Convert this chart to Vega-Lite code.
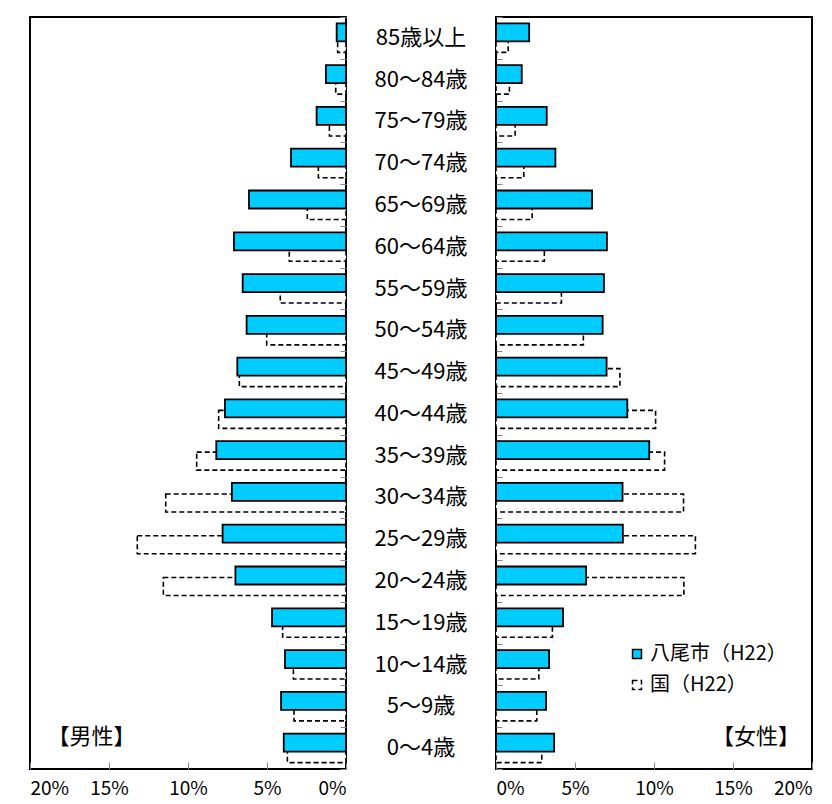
{
  "$schema": "https://vega.github.io/schema/vega-lite/v6.json",
  "padding": {"left": 28, "top": 15, "right": 0, "bottom": 0},
  "bounds": "flush",
  "spacing": 0,
  "config": {
    "view": {"stroke": "black", "strokeWidth": 2},
    "font": "Noto Sans CJK JP",
    "axis": {"labelFont": "Noto Sans CJK JP", "labelFontSize": 19, "labelColor": "black"}
  },
  "datasets": {
    "pop": [
      {"sex": "男性", "series": "八尾市（H22）", "age": "85歳以上", "value": 0.59},
      {"sex": "男性", "series": "八尾市（H22）", "age": "80～84歳", "value": 1.27},
      {"sex": "男性", "series": "八尾市（H22）", "age": "75～79歳", "value": 1.86},
      {"sex": "男性", "series": "八尾市（H22）", "age": "70～74歳", "value": 3.48},
      {"sex": "男性", "series": "八尾市（H22）", "age": "65～69歳", "value": 6.14},
      {"sex": "男性", "series": "八尾市（H22）", "age": "60～64歳", "value": 7.09},
      {"sex": "男性", "series": "八尾市（H22）", "age": "55～59歳", "value": 6.54},
      {"sex": "男性", "series": "八尾市（H22）", "age": "50～54歳", "value": 6.29},
      {"sex": "男性", "series": "八尾市（H22）", "age": "45～49歳", "value": 6.88},
      {"sex": "男性", "series": "八尾市（H22）", "age": "40～44歳", "value": 7.66},
      {"sex": "男性", "series": "八尾市（H22）", "age": "35～39歳", "value": 8.21},
      {"sex": "男性", "series": "八尾市（H22）", "age": "30～34歳", "value": 7.22},
      {"sex": "男性", "series": "八尾市（H22）", "age": "25～29歳", "value": 7.81},
      {"sex": "男性", "series": "八尾市（H22）", "age": "20～24歳", "value": 7.0},
      {"sex": "男性", "series": "八尾市（H22）", "age": "15～19歳", "value": 4.68},
      {"sex": "男性", "series": "八尾市（H22）", "age": "10～14歳", "value": 3.86},
      {"sex": "男性", "series": "八尾市（H22）", "age": "5～9歳", "value": 4.11},
      {"sex": "男性", "series": "八尾市（H22）", "age": "0～4歳", "value": 3.94},
      {"sex": "男性", "series": "国（H22）", "age": "85歳以上", "value": 0.53},
      {"sex": "男性", "series": "国（H22）", "age": "80～84歳", "value": 0.65},
      {"sex": "男性", "series": "国（H22）", "age": "75～79歳", "value": 1.05},
      {"sex": "男性", "series": "国（H22）", "age": "70～74歳", "value": 1.75},
      {"sex": "男性", "series": "国（H22）", "age": "65～69歳", "value": 2.45},
      {"sex": "男性", "series": "国（H22）", "age": "60～64歳", "value": 3.59},
      {"sex": "男性", "series": "国（H22）", "age": "55～59歳", "value": 4.16},
      {"sex": "男性", "series": "国（H22）", "age": "50～54歳", "value": 5.02},
      {"sex": "男性", "series": "国（H22）", "age": "45～49歳", "value": 6.75},
      {"sex": "男性", "series": "国（H22）", "age": "40～44歳", "value": 8.06},
      {"sex": "男性", "series": "国（H22）", "age": "35～39歳", "value": 9.45},
      {"sex": "男性", "series": "国（H22）", "age": "30～34歳", "value": 11.41},
      {"sex": "男性", "series": "国（H22）", "age": "25～29歳", "value": 13.21},
      {"sex": "男性", "series": "国（H22）", "age": "20～24歳", "value": 11.56},
      {"sex": "男性", "series": "国（H22）", "age": "15～19歳", "value": 4.01},
      {"sex": "男性", "series": "国（H22）", "age": "10～14歳", "value": 3.33},
      {"sex": "男性", "series": "国（H22）", "age": "5～9歳", "value": 3.29},
      {"sex": "男性", "series": "国（H22）", "age": "0～4歳", "value": 3.71},
      {"sex": "女性", "series": "八尾市（H22）", "age": "85歳以上", "value": 2.10},
      {"sex": "女性", "series": "八尾市（H22）", "age": "80～84歳", "value": 1.63},
      {"sex": "女性", "series": "八尾市（H22）", "age": "75～79歳", "value": 3.21},
      {"sex": "女性", "series": "八尾市（H22）", "age": "70～74歳", "value": 3.76},
      {"sex": "女性", "series": "八尾市（H22）", "age": "65～69歳", "value": 6.08},
      {"sex": "女性", "series": "八尾市（H22）", "age": "60～64歳", "value": 7.02},
      {"sex": "女性", "series": "八尾市（H22）", "age": "55～59歳", "value": 6.83},
      {"sex": "女性", "series": "八尾市（H22）", "age": "50～54歳", "value": 6.75},
      {"sex": "女性", "series": "八尾市（H22）", "age": "45～49歳", "value": 7.0},
      {"sex": "女性", "series": "八尾市（H22）", "age": "40～44歳", "value": 8.31},
      {"sex": "女性", "series": "八尾市（H22）", "age": "35～39歳", "value": 9.70},
      {"sex": "女性", "series": "八尾市（H22）", "age": "30～34歳", "value": 8.01},
      {"sex": "女性", "series": "八尾市（H22）", "age": "25～29歳", "value": 8.03},
      {"sex": "女性", "series": "八尾市（H22）", "age": "20～24歳", "value": 5.70},
      {"sex": "女性", "series": "八尾市（H22）", "age": "15～19歳", "value": 4.24},
      {"sex": "女性", "series": "八尾市（H22）", "age": "10～14歳", "value": 3.36},
      {"sex": "女性", "series": "八尾市（H22）", "age": "5～9歳", "value": 3.17},
      {"sex": "女性", "series": "八尾市（H22）", "age": "0～4歳", "value": 3.68},
      {"sex": "女性", "series": "国（H22）", "age": "85歳以上", "value": 0.77},
      {"sex": "女性", "series": "国（H22）", "age": "80～84歳", "value": 0.85},
      {"sex": "女性", "series": "国（H22）", "age": "75～79歳", "value": 1.21},
      {"sex": "女性", "series": "国（H22）", "age": "70～74歳", "value": 1.76},
      {"sex": "女性", "series": "国（H22）", "age": "65～69歳", "value": 2.29},
      {"sex": "女性", "series": "国（H22）", "age": "60～64歳", "value": 3.06},
      {"sex": "女性", "series": "国（H22）", "age": "55～59歳", "value": 4.14},
      {"sex": "女性", "series": "国（H22）", "age": "50～54歳", "value": 5.53},
      {"sex": "女性", "series": "国（H22）", "age": "45～49歳", "value": 7.84},
      {"sex": "女性", "series": "国（H22）", "age": "40～44歳", "value": 10.1},
      {"sex": "女性", "series": "国（H22）", "age": "35～39歳", "value": 10.67},
      {"sex": "女性", "series": "国（H22）", "age": "30～34歳", "value": 11.87},
      {"sex": "女性", "series": "国（H22）", "age": "25～29歳", "value": 12.62},
      {"sex": "女性", "series": "国（H22）", "age": "20～24歳", "value": 11.89},
      {"sex": "女性", "series": "国（H22）", "age": "15～19歳", "value": 3.57},
      {"sex": "女性", "series": "国（H22）", "age": "10～14歳", "value": 2.71},
      {"sex": "女性", "series": "国（H22）", "age": "5～9歳", "value": 2.58},
      {"sex": "女性", "series": "国（H22）", "age": "0～4歳", "value": 2.90}
    ],
    "panel": [
      {"sex": "男性", "label": "【男性】", "x": 16.1, "age": "0～4歳"},
      {"sex": "女性", "label": "【女性】", "x": 16.45, "age": "0～4歳"}
    ],
    "ages": [
      {"age": "85歳以上"}, {"age": "80～84歳"}, {"age": "75～79歳"}, {"age": "70～74歳"},
      {"age": "65～69歳"}, {"age": "60～64歳"}, {"age": "55～59歳"}, {"age": "50～54歳"},
      {"age": "45～49歳"}, {"age": "40～44歳"}, {"age": "35～39歳"}, {"age": "30～34歳"},
      {"age": "25～29歳"}, {"age": "20～24歳"}, {"age": "15～19歳"}, {"age": "10～14歳"},
      {"age": "5～9歳"}, {"age": "0～4歳"}
    ]
  },
  "hconcat": [
    {
      "width": 316,
      "height": 752,
      "layer": [
        {
          "data": {"name": "pop"},
          "transform": [{"filter": "datum.sex === '男性' && datum.series === '国（H22）'"}],
          "mark": {"type": "bar", "fill": "white", "stroke": "black", "strokeWidth": 1.6, "strokeDash": [5, 3], "height": 18, "yOffset": 5.5},
          "encoding": {
            "x": {"field": "value", "type": "quantitative", "scale": {"domain": [0, 20], "reverse": true, "nice": false},
              "axis": {"values": [0, 5, 10, 15, 20], "labelExpr": "datum.value + '%'", "title": null, "grid": false, "domain": false, "tickSize": -7, "tickColor": "#888", "labelPadding": 17}},
            "y": {"field": "age", "type": "nominal",
              "scale": {"domain": ["85歳以上", "80～84歳", "75～79歳", "70～74歳", "65～69歳", "60～64歳", "55～59歳", "50～54歳", "45～49歳", "40～44歳", "35～39歳", "30～34歳", "25～29歳", "20～24歳", "15～19歳", "10～14歳", "5～9歳", "0～4歳"], "paddingInner": 0, "paddingOuter": 0},
              "axis": {"orient": "right", "labels": false, "title": null, "domain": false, "tickBand": "extent", "tickSize": -6, "tickColor": "#888"}}
          }
        },
        {
          "data": {"name": "pop"},
          "transform": [{"filter": "datum.sex === '男性' && datum.series === '八尾市（H22）'"}],
          "mark": {"type": "bar", "fill": "#00CCFF", "stroke": "black", "strokeWidth": 1.8, "height": 18, "yOffset": -5.5},
          "encoding": {
            "x": {"field": "value", "type": "quantitative"},
            "y": {"field": "age", "type": "nominal"}
          }
        },
        {
          "data": {"name": "panel"},
          "transform": [{"filter": "datum.sex === '男性'"}],
          "mark": {"type": "text", "fontSize": 22, "font": "Noto Sans CJK JP", "color": "black", "dy": -11},
          "encoding": {
            "x": {"field": "x", "type": "quantitative"},
            "y": {"field": "age", "type": "nominal"},
            "text": {"field": "label"}
          }
        }
      ]
    },
    {
      "width": 150,
      "height": 752,
      "view": {"stroke": null},
      "data": {"name": "ages"},
      "mark": {"type": "text", "fontSize": 22, "font": "Noto Sans CJK JP", "color": "black"},
      "encoding": {
        "y": {"field": "age", "type": "nominal",
          "scale": {"domain": ["85歳以上", "80～84歳", "75～79歳", "70～74歳", "65～69歳", "60～64歳", "55～59歳", "50～54歳", "45～49歳", "40～44歳", "35～39歳", "30～34歳", "25～29歳", "20～24歳", "15～19歳", "10～14歳", "5～9歳", "0～4歳"], "paddingInner": 0, "paddingOuter": 0},
          "axis": null},
        "text": {"field": "age"}
      }
    },
    {
      "width": 316,
      "height": 752,
      "layer": [
        {
          "data": {"name": "pop"},
          "transform": [{"filter": "datum.sex === '女性' && datum.series === '国（H22）'"}],
          "mark": {"type": "bar", "stroke": "black", "strokeWidth": 1.6, "height": 18, "yOffset": 5.5},
          "encoding": {
            "x": {"field": "value", "type": "quantitative", "scale": {"domain": [0, 20], "nice": false},
              "axis": {"values": [0, 5, 10, 15, 20], "labelExpr": "datum.value + '%'", "title": null, "grid": false, "domain": false, "tickSize": -7, "tickColor": "#888", "labelPadding": 17}},
            "y": {"field": "age", "type": "nominal",
              "scale": {"domain": ["85歳以上", "80～84歳", "75～79歳", "70～74歳", "65～69歳", "60～64歳", "55～59歳", "50～54歳", "45～49歳", "40～44歳", "35～39歳", "30～34歳", "25～29歳", "20～24歳", "15～19歳", "10～14歳", "5～9歳", "0～4歳"], "paddingInner": 0, "paddingOuter": 0},
              "axis": {"orient": "left", "labels": false, "title": null, "domain": false, "tickBand": "extent", "tickSize": -6, "tickColor": "#888"}},
            "fill": {"field": "series", "type": "nominal",
              "scale": {"domain": ["八尾市（H22）", "国（H22）"], "range": ["#00CCFF", "white"]},
              "legend": {"title": null, "orient": "none", "legendX": 597, "legendY": 627, "symbolType": "square", "symbolSize": 80, "symbolStrokeColor": "black", "symbolStrokeWidth": 1.5, "labelFontSize": 20, "labelFont": "Noto Sans CJK JP", "labelColor": "black", "rowPadding": 11, "labelOffset": 3}},
            "strokeDash": {"field": "series", "type": "nominal",
              "scale": {"domain": ["八尾市（H22）", "国（H22）"], "range": [[1, 0], [5, 3]]},
              "legend": {"title": null, "orient": "none", "legendX": 597, "legendY": 627, "symbolType": "square", "symbolSize": 80, "symbolStrokeColor": "black", "symbolStrokeWidth": 1.5, "labelFontSize": 20, "labelFont": "Noto Sans CJK JP", "labelColor": "black", "rowPadding": 11, "labelOffset": 3}}
          }
        },
        {
          "data": {"name": "pop"},
          "transform": [{"filter": "datum.sex === '女性' && datum.series === '八尾市（H22）'"}],
          "mark": {"type": "bar", "stroke": "black", "strokeWidth": 1.8, "height": 18, "yOffset": -5.5},
          "encoding": {
            "x": {"field": "value", "type": "quantitative"},
            "y": {"field": "age", "type": "nominal"},
            "fill": {"field": "series", "type": "nominal"},
            "strokeDash": {"field": "series", "type": "nominal"}
          }
        },
        {
          "data": {"name": "panel"},
          "transform": [{"filter": "datum.sex === '女性'"}],
          "mark": {"type": "text", "fontSize": 22, "font": "Noto Sans CJK JP", "color": "black", "dy": -11},
          "encoding": {
            "x": {"field": "x", "type": "quantitative"},
            "y": {"field": "age", "type": "nominal"},
            "text": {"field": "label"}
          }
        }
      ]
    }
  ]
}
